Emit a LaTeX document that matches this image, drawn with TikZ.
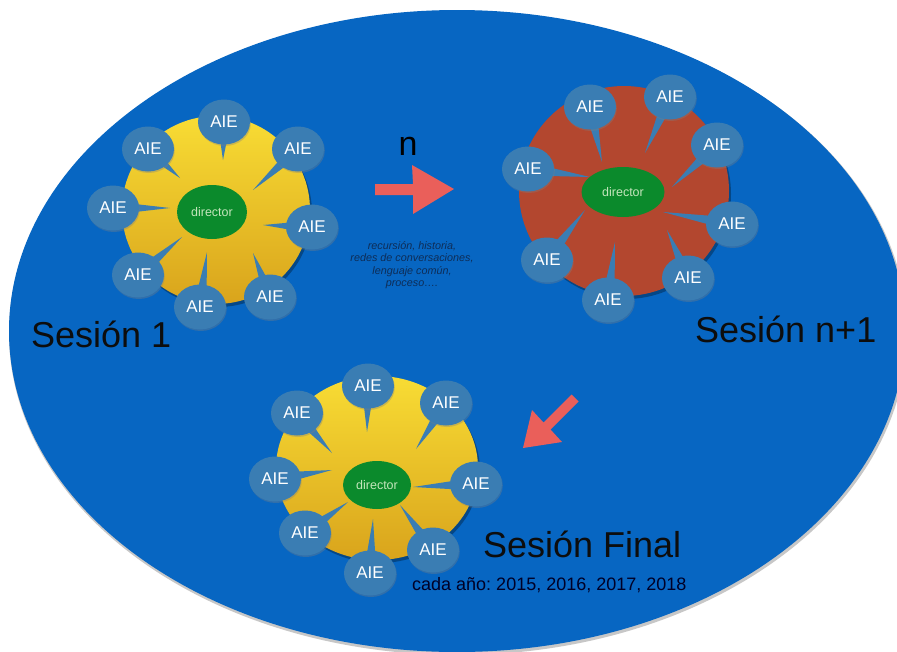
\documentclass[tikz,border=0pt]{standalone}
\usepackage{fontspec}
\setmainfont{Liberation Sans}
\frenchspacing
\usetikzlibrary{calc,shapes.geometric,shadows}
\definecolor{bgblue}{HTML}{0766C2}
\definecolor{bubblue}{HTML}{3A7DB3}
\definecolor{dirgreen}{HTML}{0B8A2C}
\definecolor{dirtext}{HTML}{C4E6BC}
\definecolor{ylight}{HTML}{F8DC34}
\definecolor{ydark}{HTML}{D9A41C}
\definecolor{diskred}{HTML}{B3472F}
\definecolor{arrowred}{HTML}{EA5F5A}
\definecolor{notetext}{HTML}{0E2D57}
\tikzset{
  bub/.style={ellipse, fill=bubblue, minimum width=52pt, minimum height=45pt, inner sep=0pt,
    text=white, font=\fontsize{17}{20}\selectfont,
    drop shadow={opacity=0.35, shadow xshift=0.8pt, shadow yshift=-1.5pt}},
  tail/.style={fill=bubblue},
  dirnode/.style={ellipse, fill=dirgreen, inner sep=0pt, text=dirtext,
    font=\fontsize{12.5}{14}\selectfont},
  sesion/.style={font=\fontsize{36}{40}\selectfont, text=black!95, inner sep=0pt},
  arrowfill/.style={fill=arrowred}
}
\newcommand\aiebub[3]{%
  \coordinate (#1c) at #2;
  \coordinate (#1t) at #3;
  \fill[tail] ($(#1c)!6.5pt!90:(#1t)$) -- (#1t) -- ($(#1c)!6.5pt!-90:(#1t)$) -- cycle;
  \node[bub] (#1) at (#1c) {AIE};
}
\begin{document}
\begin{tikzpicture}[x=1pt,y=-1pt]
\useasboundingbox (0,0) rectangle (897,651);
\fill[white] (0,0) rectangle (897,651);
% big ellipse
\fill[black!22] (458,333) ellipse [x radius=449, y radius=322];
\fill[bgblue] (457,331) ellipse [x radius=448, y radius=321];

% ---------- cluster 1 ----------
\fill[black, opacity=0.3] (218,213) circle [radius=94];
\shade[top color=ylight, bottom color=ydark] (216,210) circle [radius=94];
\aiebub{a1}{(224,122)}{(223,160)}
\aiebub{a2}{(148,149)}{(180,178)}
\aiebub{a3}{(298,149)}{(253,190)}
\aiebub{a4}{(113,208)}{(170,208)}
\aiebub{a5}{(312,227)}{(263,225)}
\aiebub{a6}{(138,275)}{(182,237)}
\aiebub{a7}{(200,307)}{(207,252)}
\aiebub{a8}{(270,297)}{(253,253)}
\node[dirnode, minimum width=70pt, minimum height=54pt] (ad) at (212,212) {director};

% ---------- cluster 2 ----------
\fill[black, opacity=0.3] (626,194) circle [radius=105];
\fill[diskred] (624,191) circle [radius=105];
\aiebub{b1}{(590,107)}{(602,162)}
\aiebub{b2}{(670,97)}{(645,153)}
\aiebub{b3}{(717,145)}{(672,187)}
\aiebub{b4}{(528,169)}{(590,177)}
\aiebub{b5}{(732,224)}{(663,212)}
\aiebub{b6}{(547,260)}{(585,210)}
\aiebub{b7}{(688,278)}{(667,230)}
\aiebub{b8}{(608,300)}{(615,242)}
\node[dirnode, minimum width=83pt, minimum height=50pt] (bd) at (623,192) {director};

% ---------- cluster 3 ----------
\fill[black, opacity=0.3] (379,471) ellipse [x radius=101, y radius=92];
\shade[top color=ylight, bottom color=ydark] (377,468) ellipse [x radius=101, y radius=92];
\aiebub{c1}{(368,386)}{(367,432)}
\aiebub{c2}{(297,413)}{(332,453)}
\aiebub{c3}{(446,403)}{(416,449)}
\aiebub{c4}{(275,479)}{(332,470)}
\aiebub{c5}{(476,484)}{(413,487)}
\aiebub{c6}{(305,533)}{(348,502)}
\aiebub{c7}{(433,550)}{(400,505)}
\aiebub{c8}{(370,573)}{(373,519)}
\node[dirnode, minimum width=68pt, minimum height=48pt] (cd) at (377,485) {director};

% ---------- arrows ----------
\fill[arrowfill] (375,184) -- (413,184) -- (412,165) -- (454,189) -- (413,214) -- (413,195) -- (375,195) -- cycle;
\fill[arrowfill] (571.5,394.5) -- (578.5,401.5) -- (550.5,429.5) -- (562,442) -- (523,448) -- (532,410) -- (543.5,422.5) -- cycle;

% ---------- texts ----------
\node[font=\fontsize{34}{40}\selectfont, text=black, inner sep=0pt, anchor=base] (nlab) at (408,155) {n};
\node[font=\itshape\fontsize{10.8}{12.3}\selectfont, text=notetext, align=center, inner sep=0pt] (note) at (412,265)
  {recursión, historia,\\redes de conversaciones,\\lenguaje común,\\proceso….};
\node[sesion, anchor=base west] (s1) at (31,347) {Sesión 1};
\node[sesion, anchor=base west] (s2) at (695,342) {Sesión n+1};
\node[sesion, anchor=base west] (s3) at (483,557) {Sesión Final};
\node[font=\fontsize{18}{20}\selectfont, text=black!85!blue, inner sep=0pt, anchor=base west] (years) at (412,590)
  {cada año: 2015, 2016, 2017, 2018};
\end{tikzpicture}
\end{document}
